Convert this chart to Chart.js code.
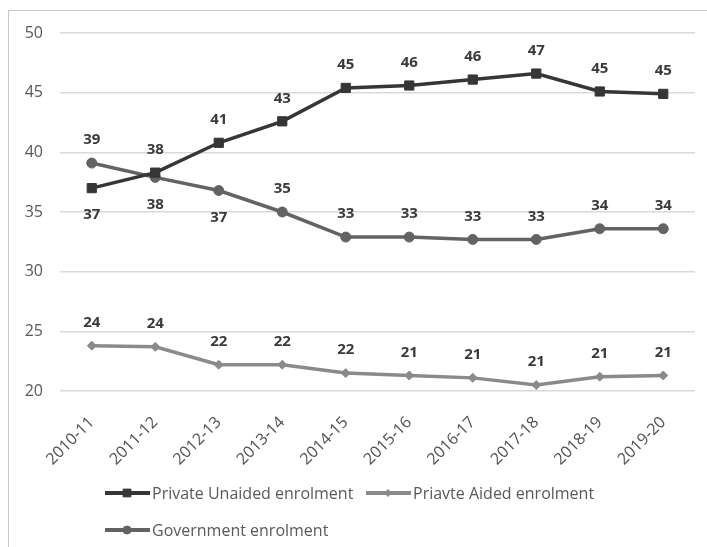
<!DOCTYPE html>
<html>
<head>
<meta charset="utf-8">
<script src="https://cdn.jsdelivr.net/npm/chart.js@4.4.0/dist/chart.umd.min.js"></script>
<style>
    html, body { margin: 0; padding: 0; background: #fff; }
    #wrap { position: relative; width: 707px; height: 547px; overflow: hidden; }
    #frame { position: absolute; left: 8px; top: 10px; width: 720px; height: 560px; border: 1px solid #c8c8c8; }
    #enrolChart { position: absolute; left: 0; top: 0; }
</style>
</head>
<body>
<div id="wrap">
    <div id="frame"></div>
    <canvas id="enrolChart" width="707" height="547"></canvas>
</div>
<script>
// Data (share of enrolment, %)
var years = ['2010-11', '2011-12', '2012-13', '2013-14', '2014-15', '2015-16', '2016-17', '2017-18', '2018-19', '2019-20'];
var privateUnaided = [37.0, 38.3, 40.8, 42.6, 45.4, 45.6, 46.1, 46.6, 45.1, 44.9];
var privateAided = [23.8, 23.7, 22.2, 22.2, 21.5, 21.3, 21.1, 20.5, 21.2, 21.3];
var government = [39.1, 37.9, 36.8, 35.0, 32.9, 32.9, 32.7, 32.7, 33.6, 33.6];
var yMin = 20, yMax = 50, yStep = 5;

var fontFamily = '"Open Sans", "Liberation Sans", sans-serif';

// value labels above / below each point
var valueLabels = {
    id: 'valueLabels',
    afterDatasetsDraw: function (chart) {
        var ctx = chart.ctx;
        ctx.save();
        ctx.font = 'bold 15px ' + fontFamily;
        ctx.fillStyle = '#3a3a3a';
        ctx.textAlign = 'center';
        ctx.textBaseline = 'middle';
        chart.data.datasets.forEach(function (ds, di) {
            var meta = chart.getDatasetMeta(di);
            var below = ds.labelBelow || [];
            meta.data.forEach(function (pt, i) {
                var dy = below.indexOf(i) >= 0 ? 27 : -23;
                ctx.fillText(Math.round(ds.data[i]), pt.x, pt.y + dy);
            });
        });
        ctx.restore();
    }
};

// Excel style legend: line with marker, two rows
var lineLegend = {
    id: 'lineLegend',
    afterDraw: function (chart, args, opts) {
        var ctx = chart.ctx;
        ctx.save();
        ctx.font = '16px ' + fontFamily;
        ctx.textBaseline = 'middle';
        ctx.textAlign = 'left';
        opts.items.forEach(function (item) {
            var ds = chart.data.datasets[item.dataset];
            ctx.strokeStyle = ds.borderColor;
            ctx.fillStyle = ds.borderColor;
            ctx.lineWidth = 4;
            ctx.beginPath();
            ctx.moveTo(item.x, item.y);
            ctx.lineTo(item.x + 45, item.y);
            ctx.stroke();
            ctx.lineWidth = 1;
            Chart.helpers.drawPoint(ctx, {
                pointStyle: ds.pointStyle,
                radius: ds.pointRadius - 1,
                rotation: 0,
                borderWidth: 1
            }, item.x + 22, item.y);
            ctx.fillStyle = '#595959';
            ctx.fillText(ds.label, item.x + 47, item.y + 1);
        });
        ctx.restore();
    }
};

var ctx = document.getElementById('enrolChart').getContext('2d');
var enrolChart = new Chart(ctx, {
    type: 'line',
    data: {
        labels: years,
        datasets: [
            {
                label: 'Private Unaided enrolment',
                data: privateUnaided,
                borderColor: '#363636',
                backgroundColor: '#363636',
                borderWidth: 3.5,
                pointStyle: 'rect',
                pointRadius: 6.5,
                pointBorderWidth: 1,
                labelBelow: [0]
            },
            {
                label: 'Priavte Aided enrolment',
                data: privateAided,
                borderColor: '#8a8a8a',
                backgroundColor: '#8a8a8a',
                borderWidth: 3.5,
                pointStyle: 'rectRot',
                pointRadius: 4.5,
                pointBorderWidth: 1
            },
            {
                label: 'Government enrolment',
                data: government,
                borderColor: '#636363',
                backgroundColor: '#636363',
                borderWidth: 3.5,
                pointStyle: 'circle',
                pointRadius: 5,
                pointBorderWidth: 1,
                labelBelow: [1, 2]
            }
        ]
    },
    options: {
        responsive: false,
        animation: false,
        layout: { padding: { top: 33, right: 12, left: 0, bottom: 0 } },
        plugins: {
            legend: { display: false },
            tooltip: { enabled: false },
            lineLegend: {
                items: [
                    { dataset: 0, x: 105, y: 493 },
                    { dataset: 1, x: 366, y: 493 },
                    { dataset: 2, x: 105, y: 530 }
                ]
            }
        },
        scales: {
            x: {
                offset: true,
                grid: { display: false },
                border: { display: false },
                ticks: {
                    autoSkip: false,
                    minRotation: 45,
                    maxRotation: 45,
                    padding: 14,
                    color: '#505050',
                    font: { family: fontFamily, size: 16 }
                },
                afterFit: function (scale) { scale.height = 156; }
            },
            y: {
                min: yMin,
                max: yMax,
                grid: { color: '#d9d9d9', lineWidth: 1.5, drawTicks: false },
                border: { display: false },
                ticks: {
                    stepSize: yStep,
                    padding: 17,
                    color: '#595959',
                    font: { family: fontFamily, size: 16 }
                },
                afterFit: function (scale) { scale.width = 60; }
            }
        }
    },
    plugins: [valueLabels, lineLegend]
});
</script>
</body>
</html>
